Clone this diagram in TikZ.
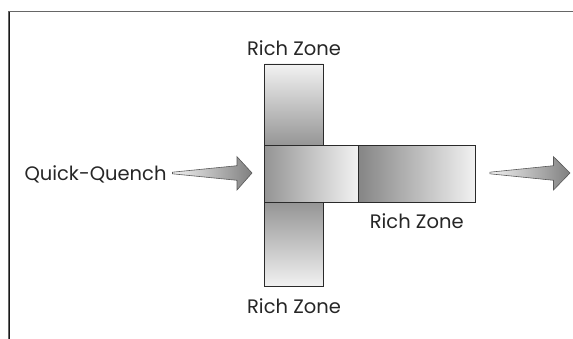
\documentclass[tikz,border=0pt]{standalone}
\usepackage{fontspec}
\setmainfont{Poppins}
\usetikzlibrary{calc}
\definecolor{edgegray}{HTML}{2A2A2A}
\definecolor{lightg}{HTML}{F2F2F2}
\definecolor{darkg}{HTML}{959595}
\definecolor{darkerg}{HTML}{858585}
\begin{document}
\begin{tikzpicture}[x=1pt,y=-1pt,
  lbl/.style={anchor=base,inner sep=0pt,font=\fontsize{19.5}{23}\selectfont,text=black!85},
  zonebox/.style={draw=edgegray,line width=0.8pt,inner sep=0pt,rectangle},
  flowarrow/.style={draw=black!65,line width=0.6pt,left color=lightg,right color=black!50}
]
\useasboundingbox (0,0) rectangle (573,339);
% frame
\draw[black!60,line width=1.3pt] (9,339) -- (9,11.7) -- (573,11.7);
\draw[black!90,line width=1pt] (9.3,339) -- (9.3,12.4);
% zone boxes
\node[zonebox,minimum width=58.8pt,minimum height=81.7pt,top color=lightg,bottom color=darkg]
  (top) at (294,104.85) {};
\node[zonebox,minimum width=58.8pt,minimum height=84.4pt,top color=darkg,bottom color=lightg]
  (bot) at (294,244.5) {};
\node[zonebox,minimum width=93.7pt,minimum height=56.6pt,left color=darkg,right color=lightg]
  (mid) at (311.45,174) {};
\node[zonebox,minimum width=117.4pt,minimum height=56.6pt,left color=darkerg,right color=lightg]
  (right) at (417,174) {};
% labels
\node[lbl] (ltop) at (294,56) {Rich Zone};
\node[lbl] (lbot) at (294,313) {Rich Zone};
\node[lbl] (lright) at (416.7,228.3) {Rich Zone};
\node[lbl] (qq) at (95.5,180.5) {Quick-Quench};
% arrows
\coordinate (t1) at (172.5,173);
\coordinate (p1) at (252,173);
\coordinate (t2) at (489.8,173);
\coordinate (p2) at (570,173);
\path[flowarrow] (t1) ++(0,-0.8) -- ($(p1)+(-15,-7.3)$) -- ($(p1)+(-15,-16.3)$) -- (p1)
  -- ($(p1)+(-15,17)$) -- ($(p1)+(-15,7.3)$) -- ($(t1)+(0,0.8)$) -- cycle;
\path[flowarrow] (t2) ++(0,-0.8) -- ($(p2)+(-16.5,-7.3)$) -- ($(p2)+(-16.5,-16.3)$) -- (p2)
  -- ($(p2)+(-16.5,17)$) -- ($(p2)+(-16.5,7.3)$) -- ($(t2)+(0,0.8)$) -- cycle;
\end{tikzpicture}
\end{document}
